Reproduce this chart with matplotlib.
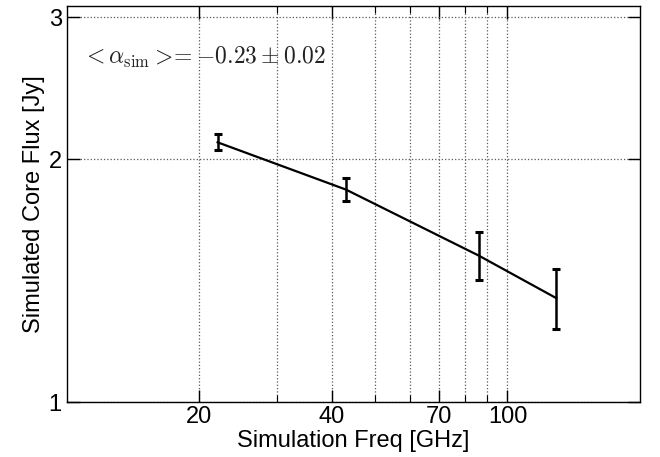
import matplotlib
matplotlib.use("Agg")
import matplotlib.pyplot as plt
from matplotlib.ticker import FixedLocator, FixedFormatter, NullFormatter

plt.rcParams['font.family'] = ['Liberation Sans', 'DejaVu Sans']
plt.rcParams['mathtext.fontset'] = 'cm'

freq = [22, 43, 86, 129]
flux = [2.10, 1.835, 1.52, 1.346]
flux_err = [0.048, 0.059, 0.104, 0.115]

xmajor = [20, 40, 70, 100]
xmajor_labels = ['20', '40', '70', '100']
xminor = [30, 50, 60, 80, 90]
ymajor = [1, 2, 3]
ymajor_labels = ['1', '2', '3']

fig = plt.figure(figsize=(6.6, 4.57), dpi=100)
ax = fig.add_axes([0.101, 0.120, 0.869, 0.867])

ax.errorbar(freq, flux, yerr=flux_err, color='black', lw=1.6, elinewidth=1.8,
            capsize=3, capthick=2.2, zorder=3)

ax.set_xscale('log')
ax.set_yscale('log')
ax.set_xlim(10, 200)
ax.set_ylim(1, 3.1)

ax.xaxis.set_major_locator(FixedLocator(xmajor))
ax.xaxis.set_major_formatter(FixedFormatter(xmajor_labels))
ax.xaxis.set_minor_locator(FixedLocator(xminor))
ax.xaxis.set_minor_formatter(NullFormatter())
ax.yaxis.set_major_locator(FixedLocator(ymajor))
ax.yaxis.set_major_formatter(FixedFormatter(ymajor_labels))
ax.yaxis.set_minor_locator(FixedLocator([]))

ax.tick_params(which='both', direction='in', top=True, right=True,
               labelsize=17, color='black')
ax.tick_params(which='major', length=9, width=1.0)
ax.tick_params(which='minor', length=5, width=0.8)
ax.tick_params(axis='x', which='major', pad=3)

ax.grid(True, which='both', axis='x', linestyle=':', color='0.35', lw=0.9)
ax.grid(True, which='major', axis='y', linestyle=':', color='0.35', lw=0.9)

for s in ax.spines.values():
    s.set_linewidth(1.0)

ax.set_xlabel('Simulation Freq [GHz]', fontsize=17, labelpad=1)
ax.set_ylabel('Simulated Core Flux [Jy]', fontsize=17, labelpad=3)

ax.text(0.027, 0.869, r'$<\alpha_{\rm sim}>\!\!= -0.23 \pm 0.02$', transform=ax.transAxes,
        fontsize=17, va='center', ha='left', color='#222222')

fig.savefig('out.png', dpi=100)
